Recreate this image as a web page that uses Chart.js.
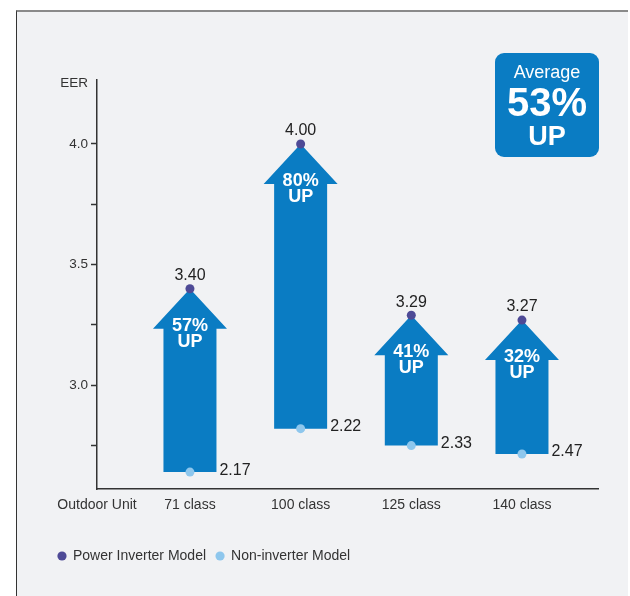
<!DOCTYPE html>
<html>
<head>
<meta charset="utf-8">
<script src="https://cdn.jsdelivr.net/npm/chart.js@4.4.1/dist/chart.umd.min.js"></script>
<style>
    html, body { margin: 0; padding: 0; background: #fff; }
    #wrap { position: relative; width: 630px; height: 596px; }
    #panel { position: absolute; left: 16px; top: 10px; width: 612px; height: 586px; background: #f1f2f4;
              border-top: 2px solid #8a8a8a; border-left: 1px solid #333; box-sizing: border-box; }
    #chart-box { position: absolute; left: 0; top: 0; width: 630px; height: 596px; }
</style>
</head>
<body>
<div id="wrap">
    <div id="panel"></div>
    <div id="chart-box"><canvas id="eer-chart"></canvas></div>
</div>
<script>
var classes = ['71 class', '100 class', '125 class', '140 class'];
var classPos = [1, 2, 3, 4];
var inverterEER = [3.40, 4.00, 3.29, 3.27];
var nonInverterEER = [2.17, 2.22, 2.33, 2.47];
// the source does not draw the lower ends to scale, these are where it put them
var nonInverterDrawnAt = [2.64, 2.82, 2.75, 2.715];
var gainLabels = ['57%', '80%', '41%', '32%'];
var averageGain = '53%';
var yTickValues = [2.75, 3.0, 3.25, 3.5, 3.75, 4.0, 4.25];
var yTickLabels = ['', '3.0', '', '3.5', '', '4.0', 'EER'];
var xMin = 0.16, xMax = 4.687;

var arrowBlue = '#0a7cc3';
var fontFamily = '"Liberation Sans", Arial, sans-serif';

Chart.defaults.font.family = fontFamily;
Chart.defaults.color = '#333';

// arrow shape drawn over each (invisible) floating bar
var arrowPlugin = {
    id: 'arrows',
    afterDatasetDraw: function(chart, args) {
        if (args.index !== 0) return;
        var ctx = chart.ctx;
        args.meta.data.forEach(function(bar, i) {
            var p = bar.getProps(['x', 'y', 'base', 'width'], true);
            var half = p.width / 2, headHalf = half + 10.5, neck = p.y + 40;
            ctx.save();
            ctx.fillStyle = arrowBlue;
            ctx.beginPath();
            ctx.moveTo(p.x, p.y);
            ctx.lineTo(p.x + headHalf, neck);
            ctx.lineTo(p.x + half, neck);
            ctx.lineTo(p.x + half, p.base);
            ctx.lineTo(p.x - half, p.base);
            ctx.lineTo(p.x - half, neck);
            ctx.lineTo(p.x - headHalf, neck);
            ctx.closePath();
            ctx.fill();

            ctx.fillStyle = '#fff';
            ctx.font = 'bold 18px ' + fontFamily;
            ctx.textAlign = 'center';
            ctx.textBaseline = 'middle';
            ctx.fillText(gainLabels[i], p.x, p.y + 37);
            ctx.fillText('UP', p.x, p.y + 53);
            ctx.restore();
        });
    }
};

// value labels next to the dots
var valuePlugin = {
    id: 'values',
    afterDatasetsDraw: function(chart) {
        var ctx = chart.ctx;
        var bars = chart.getDatasetMeta(0).data;
        ctx.save();
        ctx.font = '16px ' + fontFamily;
        ctx.fillStyle = '#222';
        ctx.textBaseline = 'middle';
        ctx.textAlign = 'center';
        chart.getDatasetMeta(1).data.forEach(function(pt, i) {
            ctx.fillText(inverterEER[i].toFixed(2), pt.x, pt.y - 13);
        });
        ctx.textAlign = 'left';
        chart.getDatasetMeta(2).data.forEach(function(pt, i) {
            var b = bars[i];
            ctx.fillText(nonInverterEER[i].toFixed(2), b.x + b.width / 2 + 3, pt.y - 2);
        });
        ctx.restore();
    }
};

// "Average 53% UP" box
var badgePlugin = {
    id: 'badge',
    afterDraw: function(chart) {
        var ctx = chart.ctx;
        var w = 104, h = 104;
        var x = chart.chartArea.right + 1 - w, y = chart.chartArea.top - 27;
        var cx = x + w / 2;
        ctx.save();
        ctx.fillStyle = arrowBlue;
        ctx.beginPath();
        ctx.roundRect(x, y, w, h, 9);
        ctx.fill();
        ctx.fillStyle = '#fff';
        ctx.textAlign = 'center';
        ctx.textBaseline = 'middle';
        ctx.font = '18px ' + fontFamily;
        ctx.fillText('Average', cx, y + 20);
        ctx.font = 'bold 40px ' + fontFamily;
        ctx.fillText(averageGain, cx, y + 52);
        ctx.font = 'bold 27px ' + fontFamily;
        ctx.fillText('UP', cx, y + 85);
        ctx.restore();
    }
};

var ctx = document.getElementById('eer-chart').getContext('2d');

window.chart = new Chart(ctx, {
    type: 'bar',
    data: {
        datasets: [{
            label: 'arrows',
            order: 2,
            backgroundColor: 'rgba(0,0,0,0)',
            barThickness: 53,
            data: classPos.map(function(x, i) {
                return { x: x, y: [nonInverterDrawnAt[i], inverterEER[i]] };
            }),
        }, {
            type: 'line',
            label: 'Power Inverter Model',
            order: 0,
            showLine: false,
            pointRadius: 4.5,
            pointBorderWidth: 0,
            pointBackgroundColor: '#4e4a96',
            backgroundColor: '#4e4a96',
            borderColor: '#4e4a96',
            data: classPos.map(function(x, i) { return { x: x, y: inverterEER[i] }; }),
        }, {
            type: 'line',
            label: 'Non-inverter Model',
            order: 1,
            showLine: false,
            pointRadius: 4.5,
            pointBorderWidth: 0,
            pointBackgroundColor: '#8ec7ed',
            backgroundColor: '#8ec7ed',
            borderColor: '#8ec7ed',
            data: classPos.map(function(x, i) { return { x: x, y: nonInverterDrawnAt[i] }; }),
        }],
    },
    options: {
        responsive: true,
        maintainAspectRatio: false,
        animation: false,
        events: [],
        layout: {
            padding: { top: 80, left: 48, right: 32, bottom: 23 }
        },
        plugins: {
            tooltip: { enabled: false },
            legend: {
                position: 'bottom',
                align: 'start',
                labels: {
                    filter: function(item) { return item.datasetIndex > 0; },
                    usePointStyle: true,
                    pointStyle: 'circle',
                    boxWidth: 8,
                    boxHeight: 6.5,
                    padding: 10,
                    color: '#333',
                    font: { size: 14 }
                }
            }
        },
        scales: {
            x: {
                type: 'linear',
                offset: false,
                min: xMin,
                max: xMax,
                afterBuildTicks: function(scale) {
                    scale.ticks = [xMin].concat(classPos).map(function(v) { return { value: v }; });
                },
                afterFit: function(scale) { scale.height = 50; },
                border: { color: '#333', width: 1.5 },
                grid: { display: false, drawTicks: false, offset: false },
                ticks: {
                    autoSkip: false,
                    maxRotation: 0,
                    padding: 8,
                    color: '#333',
                    font: { size: 14 },
                    callback: function(value) {
                        var i = classPos.indexOf(value);
                        return i >= 0 ? classes[i] : 'Outdoor Unit';
                    }
                }
            },
            y: {
                min: 2.57,
                max: 4.265,
                afterBuildTicks: function(scale) {
                    scale.ticks = yTickValues.map(function(v) { return { value: v }; });
                },
                afterFit: function(scale) { scale.width = 49; },
                border: { color: '#333', width: 1.5 },
                grid: {
                    drawOnChartArea: false,
                    drawTicks: true,
                    tickLength: 6,
                    tickWidth: 1.5,
                    tickColor: function(c) {
                        return c.tick && c.tick.value === 4.25 ? 'rgba(0,0,0,0)' : '#333';
                    }
                },
                ticks: {
                    padding: 3,
                    color: '#333',
                    font: { size: 13.5 },
                    callback: function(value) {
                        var i = yTickValues.indexOf(value);
                        return i >= 0 ? yTickLabels[i] : '';
                    }
                }
            }
        }
    },
    plugins: [arrowPlugin, valuePlugin, badgePlugin]
});
</script>
</body>
</html>
